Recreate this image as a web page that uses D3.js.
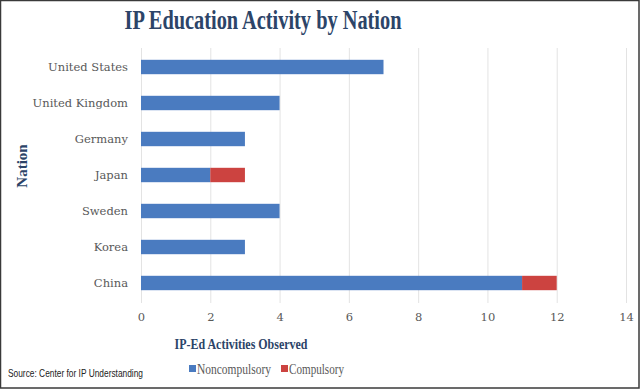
<!DOCTYPE html>
<html>
<head>
<meta charset="utf-8">
<script src="https://cdn.jsdelivr.net/npm/d3@7"></script>
<style>
  body { margin: 0; background: #fff; }
  svg { display: block; }
</style>
</head>
<body>
<div id="chart"></div>
<script>
// data
var nations = ["United States", "United Kingdom", "Germany", "Japan", "Sweden", "Korea", "China"];
var noncompulsory = [7, 4, 3, 2, 4, 3, 11];
var compulsory = [0, 0, 0, 1, 0, 0, 1];
var xTicks = [0, 2, 4, 6, 8, 10, 12, 14];
var seriesNames = ["Noncompulsory", "Compulsory"];
var seriesColors = ["#4A7BC0", "#CC4340"];

var W = 640, H = 389;
var margin = {top: 49, right: 14, bottom: 88, left: 141};
var width = W - margin.left - margin.right;
var height = H - margin.top - margin.bottom;

var svg = d3.select("#chart").append("svg")
    .attr("width", W)
    .attr("height", H);

// frame
svg.append("rect")
    .attr("x", 0.5).attr("y", 0.5)
    .attr("width", W - 1.5).attr("height", H - 1.5)
    .attr("fill", "#fff")
    .attr("stroke", "#3a3a3a")
    .attr("stroke-width", 1.5);

var g = svg.append("g")
    .attr("transform", "translate(" + margin.left + "," + margin.top + ")");

var x = d3.scaleLinear().domain([0, 14]).range([0, width]);
var y = d3.scaleBand().domain(nations).range([0, height])
    .paddingInner(0.6)
    .paddingOuter(0.3);

// gridlines
g.selectAll(".grid")
    .data(xTicks)
    .enter().append("line")
    .attr("class", "grid")
    .attr("x1", function(d){ return x(d) + 0.5; })
    .attr("x2", function(d){ return x(d) + 0.5; })
    .attr("y1", -1)
    .attr("y2", height + 2)
    .attr("stroke", "#e3e3e3")
    .attr("stroke-width", 1);

// stacked bars
var rows = nations.map(function(n, i){
    return {nation: n, non: noncompulsory[i], comp: compulsory[i]};
});

g.selectAll(".bar-non")
    .data(rows)
    .enter().append("rect")
    .attr("class", "bar-non")
    .attr("x", x(0))
    .attr("y", function(d){ return y(d.nation); })
    .attr("width", function(d){ return x(d.non) - x(0); })
    .attr("height", y.bandwidth())
    .attr("fill", seriesColors[0]);

g.selectAll(".bar-comp")
    .data(rows.filter(function(d){ return d.comp > 0; }))
    .enter().append("rect")
    .attr("class", "bar-comp")
    .attr("x", function(d){ return x(d.non); })
    .attr("y", function(d){ return y(d.nation); })
    .attr("width", function(d){ return x(d.non + d.comp) - x(d.non); })
    .attr("height", y.bandwidth())
    .attr("fill", seriesColors[1]);

var labelFont = "'DejaVu Serif', 'Liberation Serif', serif";

// x axis
var xAxis = d3.axisBottom(x).tickValues(xTicks).tickSize(0).tickPadding(12);
var xa = g.append("g")
    .attr("transform", "translate(0," + height + ")")
    .call(xAxis);
xa.select(".domain").remove();
xa.selectAll("text")
    .attr("fill", "#595959")
    .style("font-family", labelFont)
    .style("font-size", "11.5px");

// y axis
var yAxis = d3.axisLeft(y).tickSize(0).tickPadding(13);
var ya = g.append("g").call(yAxis);
ya.select(".domain").remove();
ya.selectAll("text")
    .attr("fill", "#595959")
    .style("font-family", labelFont)
    .style("font-size", "11.5px");

// title
svg.append("text")
    .attr("x", 263)
    .attr("y", 29)
    .attr("text-anchor", "middle")
    .attr("textLength", 277)
    .attr("lengthAdjust", "spacingAndGlyphs")
    .attr("fill", "#2C4468")
    .style("font-family", "'Liberation Serif', serif")
    .style("font-weight", "bold")
    .style("font-size", "27px")
    .text("IP Education Activity by Nation");

// axis titles
svg.append("text")
    .attr("x", 241)
    .attr("y", 349)
    .attr("text-anchor", "middle")
    .attr("textLength", 133)
    .attr("lengthAdjust", "spacingAndGlyphs")
    .attr("fill", "#2C4468")
    .style("font-family", "'Liberation Serif', serif")
    .style("font-weight", "bold")
    .style("font-size", "15px")
    .text("IP-Ed Activities Observed");

svg.append("text")
    .attr("transform", "translate(27,166) rotate(-90)")
    .attr("text-anchor", "middle")
    .attr("fill", "#2C4468")
    .style("font-family", "'Liberation Serif', serif")
    .style("font-weight", "bold")
    .style("font-size", "15px")
    .text("Nation");

// source note
svg.append("text")
    .attr("x", 8)
    .attr("y", 377)
    .attr("textLength", 135)
    .attr("lengthAdjust", "spacingAndGlyphs")
    .attr("fill", "#222")
    .style("font-family", "'Liberation Sans Narrow', 'Liberation Sans', sans-serif")
    .style("font-size", "11px")
    .text("Source: Center for IP Understanding");

// legend
var legendX = [189, 281];
var legendTextW = [74, 55];
var legend = svg.selectAll(".legend")
    .data(seriesNames)
    .enter().append("g")
    .attr("class", "legend")
    .attr("transform", function(d, i){ return "translate(" + legendX[i] + ",365)"; });

legend.append("rect")
    .attr("width", 7).attr("height", 7)
    .attr("fill", function(d, i){ return seriesColors[i]; });

legend.append("text")
    .attr("x", 8)
    .attr("y", 9)
    .attr("textLength", function(d, i){ return legendTextW[i]; })
    .attr("lengthAdjust", "spacingAndGlyphs")
    .attr("fill", "#595959")
    .style("font-family", "'Liberation Serif', serif")
    .style("font-size", "14px")
    .text(function(d){ return d; });
</script>
</body>
</html>
